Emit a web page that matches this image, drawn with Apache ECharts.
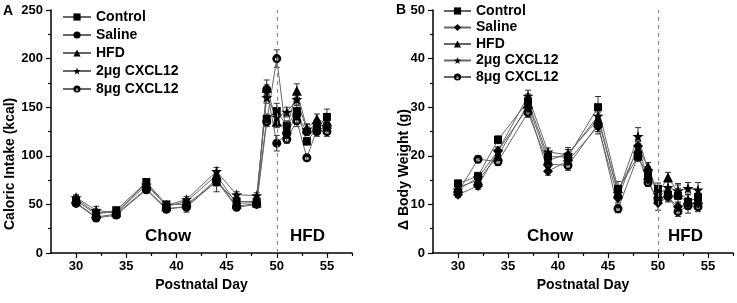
<!DOCTYPE html>
<html>
<head>
<meta charset="utf-8">
<script src="https://cdn.jsdelivr.net/npm/echarts@6/dist/echarts.min.js"></script>
<style>
  html, body { margin: 0; padding: 0; background: #fff; }
  #chart { width: 737px; height: 303px; }
</style>
</head>
<body>
<div id="chart"></div>
<script>
// days
const daysA = [30, 32, 34, 37, 39, 41, 44, 46, 48, 49, 50, 51, 52, 53, 54, 55];
const daysB = [30, 32, 34, 37, 39, 41, 44, 46, 48, 49, 50, 51, 52, 53, 54];
const groupNames = ['Control', 'Saline', 'HFD', '2μg CXCL12', '8μg CXCL12'];
const xTicks = [30, 35, 40, 45, 50, 55];
const xMinorTicks = [32.5, 37.5, 42.5, 47.5, 52.5, 57.5];

// panel A: caloric intake (kcal)
const controlA = [54, 40, 44, 73, 50, 50, 73, 53, 53, 138, 146, 131, 146, 115, 128, 140];
const salineA = [51, 36, 39, 65, 45, 48, 76, 48, 51, 168, 113, 123, 142, 125, 125, 131];
const hfdA = [56, 41, 42, 72, 48, 53, 80, 51, 52, 170, 135, 128, 167, 128, 138, 133];
const cx2A = [57, 44, 41, 70, 49, 55, 84, 60, 59, 160, 140, 145, 158, 127, 132, 130];
const cx8A = [52, 37, 40, 66, 46, 47, 74, 47, 50, 135, 200, 117, 136, 98, 127, 125];

const controlAErr = [3, 3, 3, 3, 3, 3, 10, 4, 3, 5, 8, 5, 6, 4, 5, 8];
const salineAErr = [3, 3, 3, 3, 3, 3, 5, 3, 3, 5, 8, 5, 5, 4, 5, 5];
const hfdAErr = [3, 3, 3, 3, 3, 3, 5, 3, 3, 8, 6, 6, 7, 5, 5, 5];
const cx2AErr = [3, 4, 3, 3, 3, 3, 4, 3, 3, 6, 6, 5, 6, 5, 5, 5];
const cx8AErr = [3, 3, 3, 3, 3, 5, 5, 3, 3, 5, 9, 4, 6, 3, 5, 5];

// panel B: delta body weight (g)
const controlB = [14.3, 15.8, 23.3, 31.2, 19.8, 19.8, 30.0, 13.2, 19.8, 16.0, 13.2, 12.0, 11.8, 10.5, 11.5];
const salineB = [12.0, 13.8, 21.0, 30.0, 16.8, 19.0, 26.0, 11.3, 22.0, 15.2, 10.3, 11.5, 9.5, 10.2, 10.3];
const hfdB = [13.5, 15.0, 20.0, 30.6, 19.0, 20.5, 27.5, 12.5, 21.5, 17.8, 12.3, 15.6, 12.5, 11.0, 11.0];
const cx2B = [13.0, 15.5, 21.0, 32.3, 20.8, 20.2, 28.2, 12.3, 24.0, 17.0, 12.0, 13.5, 12.8, 13.3, 13.0];
const cx8B = [12.5, 19.3, 18.8, 28.9, 18.3, 18.0, 26.5, 9.1, 20.0, 14.5, 11.0, 11.7, 8.5, 9.7, 9.5];

const controlBErr = [0.7, 0.8, 0.8, 1.5, 0.8, 0.8, 2.2, 1.5, 1.0, 1.0, 1.2, 1.0, 1.5, 1.5, 1.5];
const salineBErr = [0.6, 0.7, 0.8, 1.2, 0.8, 0.8, 1.5, 1.0, 1.0, 0.8, 1.5, 1.0, 1.0, 1.0, 1.0];
const hfdBErr = [0.7, 0.8, 0.8, 1.2, 0.8, 0.8, 1.5, 1.0, 1.0, 0.8, 1.0, 1.0, 1.5, 1.0, 1.0];
const cx2BErr = [0.7, 0.8, 0.8, 1.2, 0.8, 1.5, 1.5, 1.0, 1.8, 0.8, 1.0, 1.2, 1.5, 1.2, 1.5];
const cx8BErr = [0.7, 0.7, 0.8, 1.0, 0.8, 1.0, 1.5, 0.8, 1.0, 0.8, 1.0, 1.0, 1.0, 1.5, 1.0];

const FONT = "'Liberation Sans', Arial, sans-serif";
const STAR = 'path://M0,-10L2.35,-3.24L9.51,-3.09L3.8,1.24L5.88,8.09L0,4.2L-5.88,8.09L-3.8,1.24L-9.51,-3.09L-2.35,-3.24Z';
// black disc with a small white hole a bit below centre
const HOLED = 'path://M-10,0A10,10 0 1,1 10,0A10,10 0 1,1 -10,0Z M-4,1.5A4,4 0 1,0 4,1.5A4,4 0 1,0 -4,1.5Z';

const chart = echarts.init(document.getElementById('chart'), null, { renderer: 'canvas' });

const symbolStyles = {
  A: [['rect', 8], ['circle', 9], ['triangle', 10], [STAR, 11], [HOLED, 9]],
  B: [['rect', 8], ['diamond', 10], ['triangle', 10], [STAR, 11], [HOLED, 9]]
};

function makeSeries(panel, idx, days, vals, errs, axisIdx) {
  const [sym, size] = symbolStyles[panel][idx];
  const line = {
    name: panel + '|' + groupNames[idx],
    type: 'line',
    xAxisIndex: axisIdx * 2,
    yAxisIndex: axisIdx,
    data: days.map((d, i) => [d, vals[i]]),
    symbol: sym,
    symbolSize: size,
    showAllSymbol: true,
    lineStyle: { color: '#666', width: 1 },
    itemStyle: { color: '#000' },
    z: 3,
    animation: false
  };
  if (idx === 0) {
    line.markLine = {
      silent: true,
      symbol: 'none',
      label: { show: false },
      lineStyle: { type: [4, 4], color: '#888', width: 1 },
      data: [{ xAxis: 50 }]
    };
  }
  const err = {
    type: 'custom',
    xAxisIndex: axisIdx * 2,
    yAxisIndex: axisIdx,
    data: days.map((d, i) => [d, vals[i] - errs[i], vals[i] + errs[i]]),
    encode: { x: 0, y: [1, 2] },
    z: 2,
    silent: true,
    animation: false,
    renderItem: (params, api) => {
      const lo = api.coord([api.value(0), api.value(1)]);
      const hi = api.coord([api.value(0), api.value(2)]);
      const s = { stroke: '#333', lineWidth: 1 };
      return {
        type: 'group',
        children: [
          { type: 'line', shape: { x1: lo[0], y1: lo[1], x2: hi[0], y2: hi[1] }, style: s },
          { type: 'line', shape: { x1: lo[0] - 3, y1: lo[1], x2: lo[0] + 3, y2: lo[1] }, style: s },
          { type: 'line', shape: { x1: hi[0] - 3, y1: hi[1], x2: hi[0] + 3, y2: hi[1] }, style: s }
        ]
      };
    }
  };
  return [err, line];
}

const seriesA = [
  [controlA, controlAErr], [salineA, salineAErr], [hfdA, hfdAErr], [cx2A, cx2AErr], [cx8A, cx8AErr]
].flatMap((p, i) => makeSeries('A', i, daysA, p[0], p[1], 0));
const seriesB = [
  [controlB, controlBErr], [salineB, salineBErr], [hfdB, hfdBErr], [cx2B, cx2BErr], [cx8B, cx8BErr]
].flatMap((p, i) => makeSeries('B', i, daysB, p[0], p[1], 1));

const labelStyle = { color: '#000', fontSize: 13, fontWeight: 'bold', fontFamily: FONT };
const legendStyle = { color: '#000', fontSize: 14, fontWeight: 'bold', fontFamily: FONT };
const nameStyle = { color: '#000', fontSize: 14, fontWeight: 'bold', fontFamily: FONT };

function xAxes(gridIndex) {
  return [
    {
      type: 'value', gridIndex, min: 27.5, max: 57.5, position: 'bottom',
      name: 'Postnatal Day', nameLocation: 'middle', nameGap: 24, nameTextStyle: nameStyle,
      axisLine: { lineStyle: { color: '#000', width: 1.5 } },
      axisTick: { customValues: xTicks, length: 5, lineStyle: { color: '#000', width: 1.2 } },
      axisLabel: { customValues: xTicks, margin: 7, ...labelStyle },
      splitLine: { show: false }
    },
    {
      type: 'value', gridIndex, min: 27.5, max: 57.5, position: 'bottom', offset: 0,
      axisLine: { show: false },
      axisTick: { customValues: xMinorTicks, length: 3, lineStyle: { color: '#000', width: 1.2 } },
      axisLabel: { show: false },
      splitLine: { show: false }
    }
  ];
}

function yAxis(gridIndex, max, interval) {
  return {
    type: 'value', gridIndex, min: 0, max, interval,
    axisLine: { show: true, lineStyle: { color: '#000', width: 1.5 } },
    axisTick: { show: true, length: 5, lineStyle: { color: '#000', width: 1.2 } },
    minorTick: { show: true, splitNumber: 2, length: 3, lineStyle: { color: '#000', width: 1.2 } },
    axisLabel: { margin: 8, ...labelStyle },
    splitLine: { show: false }
  };
}

function text(str, x, y, size, extra) {
  return {
    type: 'text', x, y, ...extra,
    style: { text: str, fontSize: size, fontWeight: 'bold', fontFamily: FONT, fill: '#000', ...(extra && extra.style) }
  };
}

chart.setOption({
  backgroundColor: '#fff',
  animation: false,
  textStyle: { fontFamily: FONT },
  grid: [
    { left: 51, top: 10, width: 301, height: 243 },
    { left: 433, top: 10, width: 300, height: 243 }
  ],
  xAxis: [...xAxes(0), ...xAxes(1)],
  yAxis: [yAxis(0, 250, 50), yAxis(1, 50, 10)],
  legend: [
    {
      data: groupNames.map(n => 'A|' + n),
      orient: 'vertical', left: 57, top: 5, itemWidth: 28, itemHeight: 9, itemGap: 4,
      formatter: n => n.split('|')[1],
      textStyle: legendStyle, selectedMode: false
    },
    {
      data: groupNames.map(n => 'B|' + n),
      orient: 'vertical', left: 438, top: -1, itemWidth: 27, itemHeight: 9, itemGap: 2.5,
      formatter: n => n.split('|')[1],
      textStyle: legendStyle, selectedMode: false
    }
  ],
  graphic: [
    text('A', 3, 4, 14),
    text('B', 396, 3, 14),
    text('Chow', 145, 228, 17),
    text('HFD', 290, 228, 17),
    text('Chow', 527, 228, 17),
    text('HFD', 668, 228, 17),
    text('Caloric Intake (kcal)', 10.5, 230, 14, { rotation: Math.PI / 2, style: { align: 'left', verticalAlign: 'middle' } }),
    text('Δ Body Weight (g)', 404, 230, 14, { rotation: Math.PI / 2, style: { align: 'left', verticalAlign: 'middle' } })
  ],
  series: [...seriesA, ...seriesB]
});
</script>
</body>
</html>
